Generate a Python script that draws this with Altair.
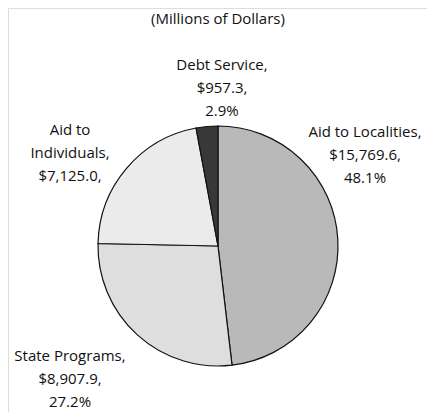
import altair as alt
import pandas as pd

categories = ["Aid to Localities", "State Programs", "Aid to Individuals", "Debt Service"]
values = [15769.6, 8907.9, 7125.0, 957.3]
label_texts = [
    "Aid to Localities,\n$15,769.6,\n48.1%",
    "State Programs,\n$8,907.9,\n27.2%",
    "Aid to\nIndividuals,\n$7,125.0,",
    "Debt Service,\n$957.3,\n2.9%",
]
fills = ["#b9b9b9", "#dedede", "#ebebeb", "#383838"]

# label anchor positions (chart pixel coords, first line centre)
label_x = [357, 62, 62, 214]
label_y = [124, 348, 122, 57]

df = pd.DataFrame({"category": categories, "value": values, "order": list(range(len(categories)))})
lab = pd.DataFrame({"text": label_texts, "lx": label_x, "ly": label_y})

FONT = "Open Sans"
W, H = 419, 404

pie = alt.Chart(df).mark_arc(stroke="#111111", strokeWidth=1.2, outerRadius=120).encode(
    theta=alt.Theta("value:Q", stack=True),
    order=alt.Order("order:Q"),
    color=alt.Color("category:N", scale=alt.Scale(domain=categories, range=fills), legend=None),
    x=alt.value(210),
    y=alt.value(238),
)

labels = alt.Chart(lab).mark_text(
    font=FONT, fontSize=15, color="#111111", lineBreak="\n", lineHeight=23,
    align="center", baseline="middle",
).encode(
    x=alt.X("lx:Q", scale=alt.Scale(domain=[0, W], range=[0, W]), axis=None),
    y=alt.Y("ly:Q", scale=alt.Scale(domain=[0, H], range=[0, H]), axis=None),
    text="text:N",
)

title = alt.Chart(pd.DataFrame({"t": ["(Millions of Dollars)"]})).mark_text(
    font=FONT, fontSize=15, color="#111111", align="center", baseline="middle",
).encode(x=alt.value(210), y=alt.value(11), text="t:N")

chart = alt.layer(pie, labels, title).properties(
    width=W, height=H, padding=0, autosize=alt.AutoSizeParams(type="none"),
).configure_view(stroke=None).configure(background="white")

chart.save("out.html", embed_options={"renderer": "svg", "actions": False})
